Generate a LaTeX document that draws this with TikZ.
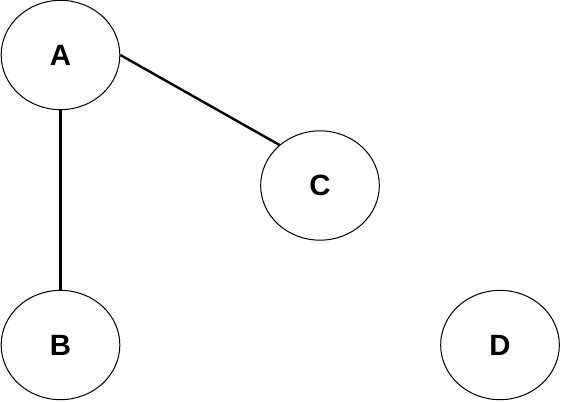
\documentclass[tikz,border=0pt]{standalone}
\usepackage{fontspec}
\setmainfont{Liberation Sans}
\usepackage{xcolor}
\usepackage{tikz}
\usetikzlibrary{shapes.geometric, positioning}
\definecolor{mydark}{RGB}{0,0,0}
\tikzset{
  vertex/.style={ellipse, draw=mydark, fill=white,
    minimum width=89pt, minimum height=82pt, inner sep=0pt,
    font=\fontsize{22}{24}\selectfont\bfseries, line width=0.75pt},
  line/.style={line width=1.8pt, color=mydark}
}

\begin{document}
\begin{tikzpicture}[x=0.75pt, y=-0.75pt]
  % Canvas
  \useasboundingbox (0,0) rectangle (561,401);

  % Vertices
  \node[vertex] (A) at (60.5,55) {A};
  \node[vertex] (B) at (60.5,345) {B};
  \node[vertex] (C) at (320,185.5) {C};
  \node[vertex] (D) at (500,345) {D};

  % Edges
  \draw[line] (A.east) -- (C.135);
  \draw[line] (A.south) -- (B.north);
\end{tikzpicture}
\end{document}
